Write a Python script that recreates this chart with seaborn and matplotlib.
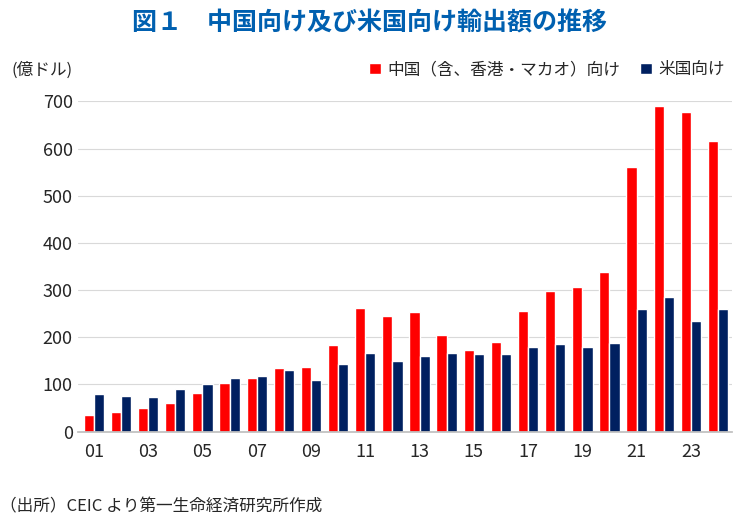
import numpy as np
import pandas as pd
import matplotlib.pyplot as plt
import seaborn as sns

years = [f"{y:02d}" for y in range(1, 25)]
china = [36, 42, 51, 61, 82, 104, 114, 135, 137, 184, 262, 245, 254, 205, 173, 190,
         256, 298, 307, 338, 560, 690, 678, 615]
usa = [80, 76, 74, 91, 101, 114, 118, 131, 110, 144, 167, 150, 160, 167, 165, 165,
       180, 186, 180, 188, 260, 285, 235, 260]
labels = ["中国（含、香港・マカオ）向け", "米国向け"]

df = pd.DataFrame({"year": years * 2,
                   "value": china + usa,
                   "series": [labels[0]] * 24 + [labels[1]] * 24})

sns.set_theme(style="white")
plt.rcParams['font.family'] = ['Noto Sans CJK JP', 'DejaVu Sans']

fig = plt.figure(figsize=(7.39, 5.20), dpi=100)
ax = fig.add_axes([0.105, 0.17, 0.885, 0.635])
sns.barplot(data=df, x="year", y="value", hue="series",
            palette=["#FF0000", "#002060"], width=0.75, ax=ax, saturation=1)

ax.set_ylim(0, 700)
ax.set_yticks(range(0, 701, 100))
ax.yaxis.grid(True, color="#d9d9d9", lw=0.8)
ax.set_axisbelow(True)
for s in ["top", "right", "left"]:
    ax.spines[s].set_visible(False)
ax.spines["bottom"].set_color("#bfbfbf")
ax.set_xticks(range(0, 24, 2))
ax.set_xticklabels(years[::2])
ax.tick_params(axis="both", labelsize=13, length=0)
ax.tick_params(axis="x", pad=8)
ax.set_xlabel("")
ax.set_ylabel("")
ax.set_xlim(-0.6, 23.5)

ax.legend(loc="lower right", bbox_to_anchor=(1.0, 1.05), ncol=2, frameon=False,
          fontsize=12, handlelength=0.7, handleheight=0.7, columnspacing=1.2,
          handletextpad=0.4, borderaxespad=0)

fig.text(0.5, 0.955, "図１　中国向け及び米国向け輸出額の推移", ha="center", va="center",
         fontsize=18, fontweight="bold", color="#0060B0")
fig.text(0.015, 0.865, "(億ドル)", fontsize=12, va="center")
fig.text(0.0, 0.025, "（出所）CEIC より第一生命経済研究所作成", fontsize=12, va="center")

fig.savefig("out.png", dpi=100)
